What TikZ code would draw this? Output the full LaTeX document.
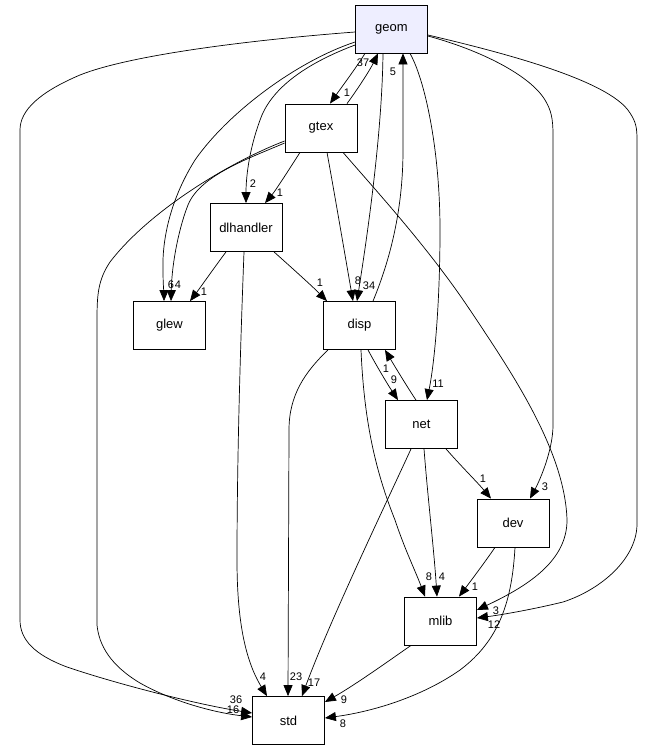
\documentclass[tikz,border=0pt]{standalone}
\usepackage{fontspec}
\setmainfont{Liberation Sans}
\usetikzlibrary{arrows.meta}
\definecolor{geomfill}{HTML}{EEEEFF}
\begin{document}
\begin{tikzpicture}[x=1pt,y=-1pt,
  box/.style={draw=black, line width=0.8pt, fill=white, minimum width=72pt, minimum height=48pt, inner sep=0pt, font=\fontsize{13}{15}\selectfont},
  dep/.style={draw=black, line width=0.7pt, -{Triangle[length=11pt,width=9pt]}},
  lbl/.style={font=\fontsize{11}{13}\selectfont, inner sep=0pt}]
\fill[white] (0,0) rectangle (656,749);
\useasboundingbox (0,0) rectangle (656,749);

\node[box, fill=geomfill] (geom) at (391.5,29) {geom};
\node[box] (gtex) at (321,128) {gtex};
\node[box] (dlhandler) at (246,227.5) {dlhandler};
\node[box] (glew) at (169.5,325.5) {glew};
\node[box] (disp) at (359.5,325.5) {disp};
\node[box] (net) at (421.5,424.5) {net};
\node[box] (dev) at (513,523) {dev};
\node[box] (mlib) at (440.5,621) {mlib};
\node[box] (std) at (288.5,720.5) {std};

% geom <-> gtex
\draw[dep] (geom.south -| 365,0) .. controls (356,68) and (341,88) .. (gtex.north -| 330,0);
\node[lbl] (l1) at (347,93) {1};
\draw[dep] (gtex.north -| 347,0) .. controls (357,90) and (370,70) .. (geom.south -| 378,0);
\node[lbl] (l2) at (363,63) {37};

% geom -> std (far left)
\draw[dep] (geom.west |- 0,32) .. controls (250,40) and (130,55) .. (80,75)
  .. controls (40,92) and (20,110) .. (20,130) -- (20,620)
  .. controls (20,640) and (35,655) .. (67,667)
  .. controls (120,685) and (200,705) .. (std.west |- 0,713);
\node[lbl] (l3) at (236,700) {36};

% gtex -> std
\draw[dep] (gtex.west |- 0,141) .. controls (230,162) and (150,210) .. (110,262)
  .. controls (98,280) and (97,295) .. (97,320) -- (97,625)
  .. controls (99,645) and (110,665) .. (140,683)
  .. controls (170,700) and (210,712) .. (std.west |- 0,717);
\node[lbl] (l4) at (233,710) {16};

% geom -> glew
\draw[dep] (geom.west |- 0,42) .. controls (300,60) and (230,110) .. (195,160)
  .. controls (170,200) and (162,240) .. (163,270)
  .. controls (163,285) and (164,295) .. (glew.north -| 164,0);
\node[lbl] (l5) at (171,285) {6};

% gtex -> glew
\draw[dep] (gtex.west |- 0,143) .. controls (250,158) and (200,175) .. (188,205)
  .. controls (180,225) and (172,260) .. (glew.north -| 171,0);
\node[lbl] (l6) at (178,285) {4};

% geom -> dlhandler
\draw[dep] (geom.west |- 0,45) .. controls (310,62) and (275,85) .. (262,115)
  .. controls (250,145) and (246,175) .. (dlhandler.north -| 246,0);
\node[lbl] (l7) at (253,184) {2};

% gtex -> dlhandler
\draw[dep] (gtex.south -| 300,0) .. controls (290,168) and (276,190) .. (dlhandler.north -| 265,0);
\node[lbl] (l8) at (280,193) {1};

% gtex -> disp
\draw[dep] (gtex.south -| 327,0) .. controls (333,185) and (345,255) .. (disp.north -| 353,0);
\node[lbl] (l9) at (358,281) {8};

% geom -> disp
\draw[dep] (geom.south -| 383,0) .. controls (382,140) and (365,250) .. (disp.north -| 357,0);
\node[lbl] (l10) at (369,286) {34};

% disp -> geom
\draw[dep] (disp.north -| 373,0) .. controls (390,260) and (403,210) .. (403,150)
  .. controls (403,110) and (403,80) .. (geom.south -| 403,0);
\node[lbl] (l11) at (393,72) {5};

% dlhandler -> glew
\draw[dep] (dlhandler.south -| 226,0) .. controls (214,268) and (200,288) .. (glew.north -| 190,0);
\node[lbl] (l12) at (204,292) {1};

% dlhandler -> disp
\draw[dep] (dlhandler.south -| 274,0) .. controls (292,268) and (312,286) .. (disp.north -| 327,0);
\node[lbl] (l13) at (320,283) {1};

% dlhandler -> std
\draw[dep] (dlhandler.south -| 244,0) .. controls (241,330) and (237,450) .. (237,560)
  .. controls (237,620) and (245,660) .. (std.north -| 267,0);
\node[lbl] (l14) at (263,677) {4};

% disp -> std
\draw[dep] (disp.south -| 328,0) .. controls (305,372) and (289,395) .. (289,430) -- (std.north -| 288,0);
\node[lbl] (l15) at (296,677) {23};

% net -> std
\draw[dep] (net.south -| 411,0) .. controls (390,495) and (330,620) .. (std.north -| 302,0);
\node[lbl] (l16) at (314,683) {17};

% disp -> net
\draw[dep] (disp.south -| 368,0) .. controls (376,365) and (388,385) .. (net.north -| 398,0);
\node[lbl] (l17) at (394,380) {9};

% net -> disp
\draw[dep] (net.north -| 416,0) .. controls (406,385) and (394,365) .. (disp.south -| 385,0);
\node[lbl] (l18) at (386,369) {1};

% geom -> net
\draw[dep] (geom.south -| 410,0) .. controls (425,80) and (440,150) .. (440,230)
  .. controls (440,300) and (435,360) .. (net.north -| 427,0);
\node[lbl] (l19) at (438,384) {11};

% geom -> dev
\draw[dep] (geom.east |- 0,36) .. controls (480,50) and (530,75) .. (545,100)
  .. controls (551,110) and (553,118) .. (553,135) -- (553,425)
  .. controls (553,450) and (540,480) .. (dev.north -| 530,0);
\node[lbl] (l20) at (545,487) {3};

% geom -> mlib
\draw[dep] (geom.east |- 0,35) .. controls (500,52) and (610,80) .. (630,113)
  .. controls (636,122) and (637,128) .. (637,140) -- (637,525)
  .. controls (636,560) and (600,590) .. (563,602)
  .. controls (530,610) and (500,615) .. (mlib.east |- 0,618);
\node[lbl] (l21) at (494,625) {12};

% gtex -> mlib
\draw[dep] (gtex.south -| 343,0) .. controls (380,195) and (430,250) .. (470,310)
  .. controls (510,370) and (565,450) .. (567,520)
  .. controls (567,560) and (530,585) .. (mlib.east |- 0,610);
\node[lbl] (l22) at (496,611) {3};

% disp -> mlib
\draw[dep] (disp.south -| 361,0) .. controls (364,420) and (375,470) .. (395,520)
  .. controls (405,550) and (415,570) .. (mlib.north -| 425,0);
\node[lbl] (l23) at (429,577) {8};

% net -> mlib
\draw[dep] (net.south -| 424,0) .. controls (428,500) and (434,550) .. (mlib.north -| 437,0);
\node[lbl] (l24) at (442,577) {4};

% dev -> mlib
\draw[dep] (dev.south -| 495,0) .. controls (485,562) and (470,582) .. (mlib.north -| 459,0);
\node[lbl] (l25) at (475,587) {1};

% net -> dev
\draw[dep] (net.south -| 446,0) .. controls (460,465) and (478,483) .. (dev.north -| 491,0);
\node[lbl] (l26) at (483,479) {1};

% mlib -> std
\draw[dep] (mlib.south -| 411,0) .. controls (390,660) and (355,685) .. (std.east |- 0,702);
\node[lbl] (l27) at (344,700) {9};

% dev -> std
\draw[dep] (dev.south -| 515,0) .. controls (512,600) and (500,640) .. (460,670)
  .. controls (420,698) and (370,712) .. (std.east |- 0,718);
\node[lbl] (l28) at (343,724) {8};
\end{tikzpicture}
\end{document}
